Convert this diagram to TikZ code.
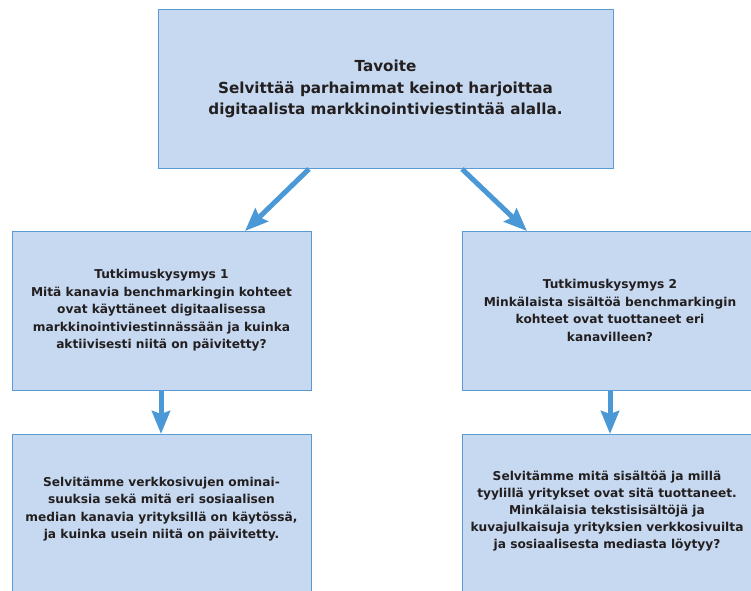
\documentclass[tikz,border=0pt]{standalone}
\usepackage{fontspec}
\setmainfont{DejaVu Sans}
\usetikzlibrary{arrows.meta}
\definecolor{boxfill}{HTML}{C6D9F0}
\definecolor{boxline}{HTML}{5B9BD5}
\definecolor{arr}{HTML}{4A98D6}
\definecolor{txt}{HTML}{231F20}
\begin{document}
\begin{tikzpicture}[x=1pt,y=-1pt,
  box/.style={draw=boxline,line width=1pt,fill=boxfill,align=center,text=txt,inner sep=0pt,font=\bfseries\fontsize{12.2}{17.5}\selectfont},
  topbox/.style={box,font=\bfseries\fontsize{15.2}{21.5}\selectfont},
  btext/.style={align=center,text=txt,inner sep=0pt,font=\bfseries\fontsize{12.2}{17.2}\selectfont},
  conn/.style={draw=arr,line width=5pt,-{Stealth[length=23pt,width=18pt,inset=3pt]}}]
\useasboundingbox (0,0) rectangle (751,590);
\node[topbox,minimum width=455pt,minimum height=159pt] (top) at (385.5,89) {Tavoite\\Selvittää parhaimmat keinot harjoittaa\\digitaalista markkinointiviestintää alalla.};
\node[box,minimum width=299pt,minimum height=159pt] (q1) at (161.5,310.5) {Tutkimuskysymys 1\\Mitä kanavia benchmarkingin kohteet\\ovat käyttäneet digitaalisessa\\markkinointiviestinnässään ja kuinka\\aktiivisesti niitä on päivitetty?};
\node[box,minimum width=296pt,minimum height=159pt] (q2) at (610,310.5) {Tutkimuskysymys 2\\Minkälaista sisältöä benchmarkingin\\kohteet ovat tuottaneet eri\\kanavilleen?};
\node[box,minimum width=299pt,minimum height=190pt] (a1) at (161.5,529) {};
\node[box,minimum width=296pt,minimum height=190pt] (a2) at (610,529) {};
\node[btext] (a1t) at (161.5,509) {Selvitämme verkkosivujen ominai-\\suuksia sekä mitä eri sosiaalisen\\median kanavia yrityksillä on käytössä,\\ja kuinka usein niitä on päivitetty.};
\node[btext] (a2t) at (607,511) {Selvitämme mitä sisältöä ja millä\\tyylillä yritykset ovat sitä tuottaneet.\\Minkälaisia tekstisisältöjä ja\\kuvajulkaisuja yrityksien verkkosivuilta\\ja sosiaalisesta mediasta löytyy?};
\coordinate (s1) at (309,169);
\coordinate (e1) at (245,231);
\coordinate (s2) at (462,169);
\coordinate (e2) at (527,231);
\coordinate (s3) at (161,390.5);
\coordinate (e3) at (161,434);
\coordinate (s4) at (610,390.5);
\coordinate (e4) at (610,434);
\draw[conn] (s1) -- (e1);
\draw[conn] (s2) -- (e2);
\draw[conn] (s3) -- (e3);
\draw[conn] (s4) -- (e4);
\end{tikzpicture}
\end{document}
